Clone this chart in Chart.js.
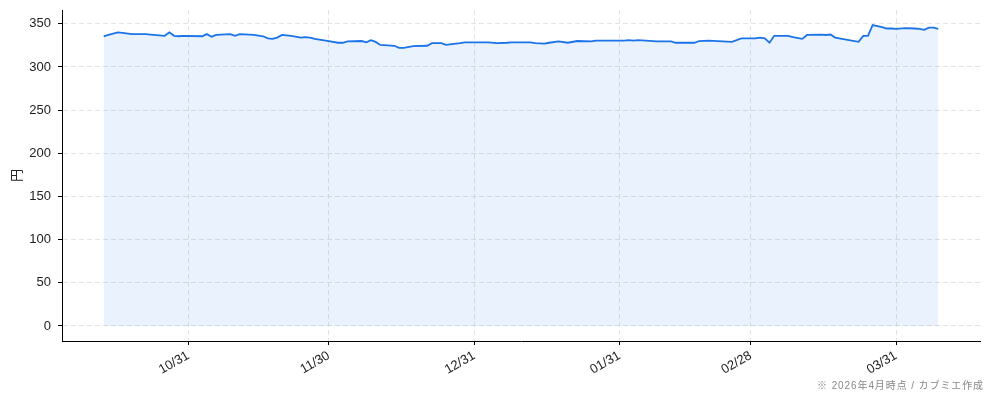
<!DOCTYPE html>
<html>
<head>
<meta charset="utf-8">
<script src="https://cdn.jsdelivr.net/npm/chart.js@4"></script>
<style>
  html, body { margin: 0; padding: 0; background: #fff; }
  #wrap { position: relative; width: 994px; height: 401px; }
  #note {
    position: absolute; right: 10px; top: 377px;
    font: 10px "Liberation Sans", "Noto Sans CJK JP", sans-serif; color: #888;
    letter-spacing: 0.9px;
  }
</style>
</head>
<body>
<div id="wrap">
  <canvas id="price" width="994" height="401"></canvas>
  <div id="note">※ 2026年4月時点 / カブミエ作成</div>
</div>
<script>
// 株価の推移 (円)
var dates = [
  '2025-10-13', '2025-10-14', '2025-10-16', '2025-10-17', '2025-10-19', '2025-10-22',
  '2025-10-23', '2025-10-26', '2025-10-27', '2025-10-28', '2025-10-29', '2025-10-30',
  '2025-11-03', '2025-11-04', '2025-11-05', '2025-11-06', '2025-11-09', '2025-11-10',
  '2025-11-11', '2025-11-14', '2025-11-16', '2025-11-17', '2025-11-18', '2025-11-19',
  '2025-11-20', '2025-11-22', '2025-11-24', '2025-11-25', '2025-11-26', '2025-11-27',
  '2025-11-30', '2025-12-02', '2025-12-03', '2025-12-04', '2025-12-07', '2025-12-08',
  '2025-12-09', '2025-12-10', '2025-12-11', '2025-12-14', '2025-12-15', '2025-12-16',
  '2025-12-18', '2025-12-21', '2025-12-22', '2025-12-24', '2025-12-25', '2025-12-28',
  '2025-12-29', '2026-01-03', '2026-01-05', '2026-01-07', '2026-01-08', '2026-01-12',
  '2026-01-13', '2026-01-15', '2026-01-16', '2026-01-18', '2026-01-20', '2026-01-22',
  '2026-01-25', '2026-01-26', '2026-02-01', '2026-02-02', '2026-02-03', '2026-02-04',
  '2026-02-08', '2026-02-11', '2026-02-12', '2026-02-16', '2026-02-17', '2026-02-19',
  '2026-02-24', '2026-02-26', '2026-03-01', '2026-03-02', '2026-03-03', '2026-03-04',
  '2026-03-05', '2026-03-08', '2026-03-09', '2026-03-11', '2026-03-12', '2026-03-15',
  '2026-03-16', '2026-03-17', '2026-03-18', '2026-03-23', '2026-03-24', '2026-03-25',
  '2026-03-26', '2026-03-28', '2026-03-29', '2026-03-30', '2026-03-31', '2026-04-02',
  '2026-04-04', '2026-04-05', '2026-04-06', '2026-04-07', '2026-04-08', '2026-04-09'
];
var prices = [
  335.5, 337, 340, 339.5, 338, 338,
  337.5, 336, 340, 336, 335.5, 336,
  335.5, 338, 335, 337, 338, 336,
  338, 337, 335.5, 333, 332.5, 334,
  337, 336, 334, 334.5, 334, 332.5,
  330, 328, 328, 329.5, 330, 328.5,
  331, 329, 325.5, 324.5, 322, 322,
  324, 324.5, 327.5, 327.5, 325.5, 327.5,
  328.5, 328.5, 327.5, 328, 328.5, 328.5,
  327.5, 327, 328, 329.5, 328, 330,
  329.5, 330.5, 330.5, 331, 330.5, 331,
  329.5, 329.5, 328, 328, 330, 330.5,
  329, 333, 333, 334, 333, 328,
  336, 336, 334.5, 332.5, 337, 337.5,
  337, 337.5, 334, 329, 336, 336,
  348.5, 346, 344.5, 344.5, 344, 345,
  344.5, 344, 343, 345.5, 345.5, 344
];
var tickDates = ['2025-10-31', '2025-11-30', '2025-12-31', '2026-01-31', '2026-02-28', '2026-03-31'];
var tickLabels = ['10/31', '11/30', '12/31', '01/31', '02/28', '03/31'];
var yTicks = [0, 50, 100, 150, 200, 250, 300, 350];

function dayNum(s) {
  var p = s.split('-');
  return Date.UTC(+p[0], +p[1] - 1, +p[2]) / 86400000;
}

var xs = dates.map(dayNum);
var tickDays = tickDates.map(dayNum);
var xMin = Math.min.apply(null, xs), xMax = Math.max.apply(null, xs);
var xPad = (xMax - xMin) * 0.05;
var yMax = Math.max.apply(null, prices);
var yPad = yMax * 0.05;

var points = xs.map(function (x, i) { return { x: x, y: prices[i] }; });
var font = { family: '"Liberation Sans", "Noto Sans CJK JP", sans-serif', size: 13 };

var ctx = document.getElementById('price').getContext('2d');
var priceChart = new Chart(ctx, {
    type: 'line',
    data: {
        datasets: [{
            label: '株価',
            data: points,
            borderColor: '#1a73e8',
            backgroundColor: 'rgba(26, 115, 232, 0.09)',
            borderWidth: 1.8,
            pointRadius: 0,
            tension: 0,
            fill: 'origin'
        }]
    },
    options: {
        responsive: false,
        animation: false,
        layout: { padding: { top: 10, right: 14, left: 0, bottom: 0 } },
        plugins: { legend: { display: false }, tooltip: { enabled: false } },
        scales: {
            x: {
                type: 'linear',
                min: xMin - xPad,
                max: xMax + xPad,
                afterBuildTicks: function (scale) {
                    scale.ticks = tickDays.map(function (v) { return { value: v }; });
                },
                afterFit: function (scale) {
                    scale.height = 60;
                    scale.paddingLeft = 0;
                    scale.paddingRight = 0;
                },
                ticks: {
                    autoSkip: false,
                    minRotation: 30,
                    maxRotation: 30,
                    padding: 3,
                    color: '#222',
                    font: font,
                    callback: function (v, i) { return tickLabels[i]; }
                },
                grid: { color: '#e3e3e3', lineWidth: 1, tickColor: '#000', tickWidth: 1, tickLength: 4 },
                border: { display: true, color: '#000', width: 1, dash: [5, 3] }
            },
            y: {
                min: -yPad,
                max: yMax + yPad,
                afterBuildTicks: function (scale) {
                    scale.ticks = yTicks.map(function (v) { return { value: v }; });
                },
                afterFit: function (scale) {
                    scale.width = 62;
                    scale.paddingTop = 0;
                    scale.paddingBottom = 0;
                },
                ticks: { padding: 7, color: '#222', font: font },
                title: { display: true, text: '円', color: '#222', font: font, padding: { top: 10, bottom: 0 } },
                grid: { color: '#e3e3e3', lineWidth: 1, tickColor: '#000', tickWidth: 1, tickLength: 4 },
                border: { display: true, color: '#000', width: 1, dash: [5, 3] }
            }
        }
    }
});
</script>
</body>
</html>
